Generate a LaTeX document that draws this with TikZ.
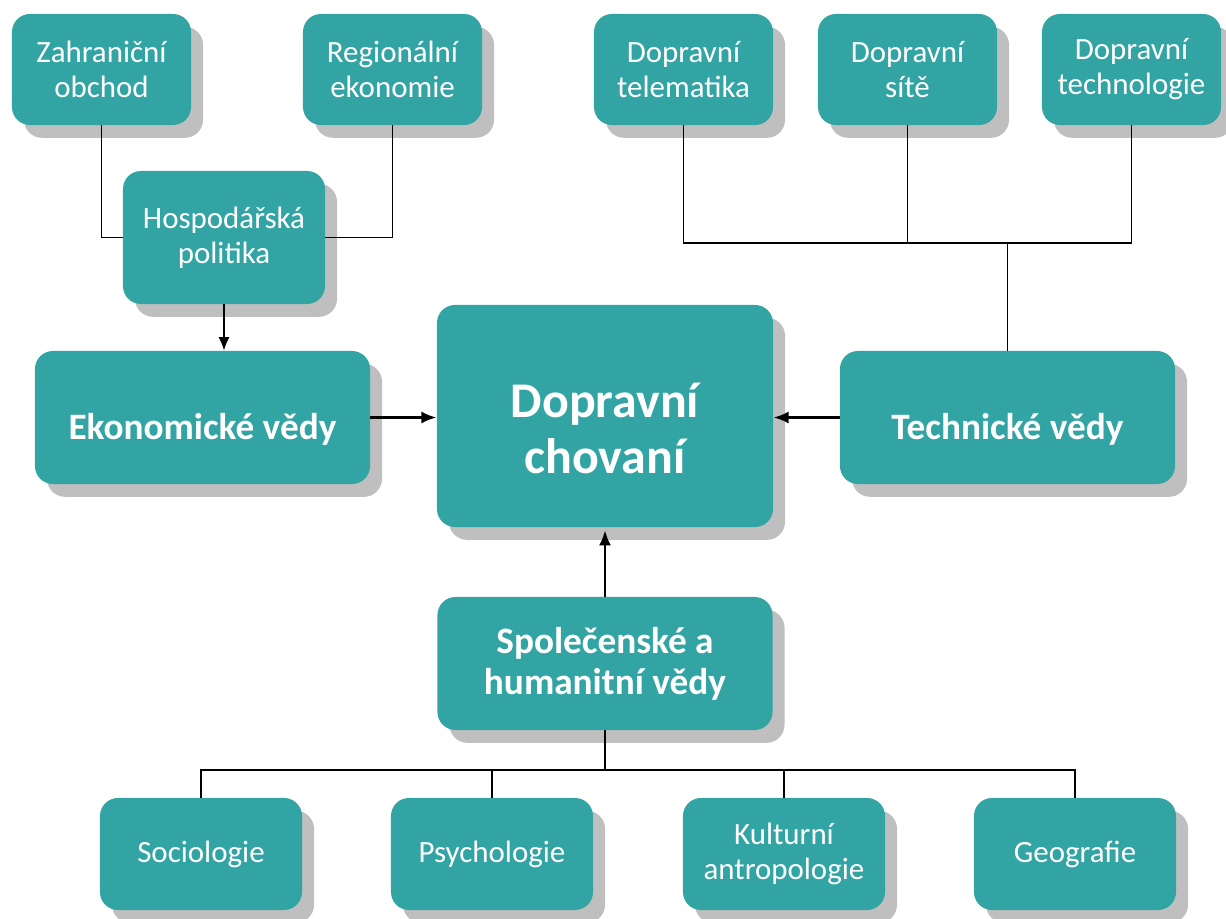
\documentclass[tikz,border=0pt]{standalone}
\usepackage{fontspec}
\setmainfont{Carlito}
\usetikzlibrary{positioning, arrows.meta, shadows}
\usepackage{xcolor}
\definecolor{tealbox}{RGB}{51,164,164}

\begin{document}
\begin{tikzpicture}[
                x=0.025cm, y=-0.025cm,
                align=center,
                >={Latex[width=3mm,length=3.8mm]},
                box/.style={rectangle, fill=tealbox, text=white, inner sep=0pt, rounded corners=0.45cm,
                            drop shadow={shadow xshift=0.3cm, shadow yshift=-0.32cm, fill=black!25, opacity=1}},
                sub/.style={box, minimum width=4.475cm, minimum height=2.775cm, font=\fontsize{22}{25}\selectfont},
                mid/.style={box, minimum width=5.05cm, minimum height=3.325cm, font=\fontsize{22}{25}\selectfont},
                leaf/.style={box, minimum width=5.05cm, minimum height=2.8cm, font=\fontsize{22}{24.5}\selectfont},
                field/.style={box, minimum width=8.375cm, minimum height=3.325cm, font=\bfseries\fontsize{26.5}{29}\selectfont},
                core/.style={box, minimum width=8.4cm, minimum height=5.55cm, font=\bfseries\fontsize{35.5}{40}\selectfont},
                line/.style={draw, line width=1pt},
                arrow/.style={draw, ->, line width=2pt},
                ]
        \useasboundingbox (0,0) rectangle (1226,919);

        % Place nodes at their places
        \node [core] (chovani) at (605,416) {\rule{0pt}{1.5cm}Dopravní\\ chovaní};
        \node [field] (ekonomicke) at (202.5,417.5) {\rule{0pt}{1.25cm}Ekonomické vědy};
        \node [field] (technicke) at (1007.5,417.5) {\rule{0pt}{1.25cm}Technické vědy};
        \node [field] (spolecenske) at (605,663.5) {Společenské a\\ humanitní vědy};

        \node [mid] (hospodarska) at (224,237.5) {Hospodářská\\ politika};
        \node [sub] (zahranicni) at (101.5,69.5) {Zahraniční\\ obchod};
        \node [sub] (regionalni) at (392.5,69.5) {Regionální\\ ekonomie};

        \node [sub] (telematika) at (683.5,69.5) {Dopravní\\ telematika};
        \node [sub] (site) at (907.5,69.5) {Dopravní\\ sítě};
        \node [sub] (technologie) at (1131.5,69.5) {Dopravní\\ technologie};

        \node [leaf] (sociologie) at (201,854) {Sociologie};
        \node [leaf] (psychologie) at (492,854) {Psychologie};
        \node [leaf] (antropologie) at (784,854) {Kulturní\\ antropologie};
        \node [leaf] (geografie) at (1075,854) {Geografie};

        \coordinate (tbus) at (1008,243);
        \coordinate (sbus) at (605,770);

        % Draw the tree lines
        \draw[line] (zahranicni.south) |- (hospodarska.west);
        \draw[line] (regionalni.south) |- (hospodarska.east);

        \draw[line] (telematika.south) |- (technologie.south |- tbus) -- (technologie.south);
        \draw[line] (site.south) -- (site.south |- tbus);
        \draw[line] (technicke.north) -- (technicke.north |- tbus);

        \draw[line] (spolecenske.south) -- (spolecenske.south |- sbus);
        \draw[line] (sociologie.north) |- (geografie.north |- sbus) -- (geografie.north);
        \draw[line] (psychologie.north) -- (psychologie.north |- sbus);
        \draw[line] (antropologie.north) -- (antropologie.north |- sbus);

        % Draw arrows into the middle
        \draw[arrow, line width=1.4pt, >={Latex[width=2.8mm,length=3.4mm]}] (hospodarska.south) -- (hospodarska.south |- ekonomicke.north);
        \draw[arrow] (ekonomicke.east) -- (ekonomicke.east -| chovani.west);
        \draw[arrow] (technicke.west) -- (technicke.west -| chovani.east);
        \draw[arrow, shorten >=2pt] (spolecenske.north) -- (chovani.south);

    \end{tikzpicture}
\end{document}
